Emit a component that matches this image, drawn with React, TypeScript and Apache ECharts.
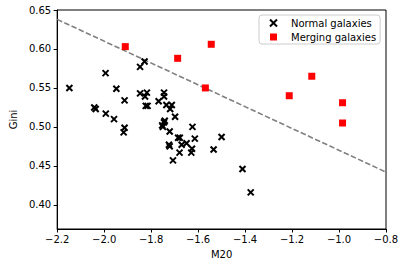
import React, { useEffect, useRef } from "react";
import * as echarts from "echarts";

const normalM20 = [
  -2.148, -1.994, -2.042, -2.036, -1.948, -1.913, -1.993, -1.958, -1.913, -1.917,
  -1.847, -1.828, -1.847, -1.818, -1.826, -1.823, -1.815, -1.745, -1.745, -1.768,
  -1.735, -1.712, -1.719, -1.698, -1.742, -1.753, -1.745, -1.750, -1.624, -1.721,
  -1.685, -1.678, -1.724, -1.721, -1.670, -1.649, -1.626, -1.629, -1.679, -1.707,
  -1.614, -1.534, -1.500, -1.411, -1.376,
];
const normalGini = [
  0.550, 0.569, 0.525, 0.523, 0.549, 0.534, 0.517, 0.510, 0.499, 0.493,
  0.577, 0.584, 0.543, 0.544, 0.539, 0.527, 0.527, 0.544, 0.539, 0.533,
  0.528, 0.528, 0.523, 0.513, 0.508, 0.502, 0.506, 0.500, 0.500, 0.494,
  0.486, 0.486, 0.477, 0.475, 0.477, 0.479, 0.472, 0.467, 0.467, 0.457,
  0.485, 0.471, 0.487, 0.446, 0.416,
];
const mergingM20 = [-1.910, -1.687, -1.544, -1.569, -1.116, -1.212, -0.985, -0.985];
const mergingGini = [0.603, 0.588, 0.606, 0.550, 0.565, 0.540, 0.531, 0.505];
const lineM20 = [-2.2, -0.8];
const lineGini = [0.638, 0.442];
const yTicks = [0.4, 0.45, 0.5, 0.55, 0.6, 0.65];

const FONT = "DejaVu Sans";
const X_PATH = "path://M0,0L10,10M10,0L0,10";

export default function App() {
  const ref = useRef<HTMLDivElement>(null);
  useEffect(() => {
    if (!ref.current) return;
    const chart = echarts.init(ref.current, undefined, { renderer: "svg" });
    const fmt = (v: number, d: number) => {
      const s = Math.abs(v).toFixed(d);
      return v < 0 ? "\u2212" + s : s;
    };
    chart.setOption({
      animation: false,
      textStyle: { fontFamily: FONT },
      grid: {
        left: 52,
        right: 18,
        top: 10,
        bottom: 37,
        show: true,
        borderColor: "#000",
        borderWidth: 1,
        backgroundColor: "#fff",
      },
      legend: {
        left: 259,
        top: 15,
        orient: "vertical",
        borderColor: "#cccccc",
        borderWidth: 1,
        borderRadius: 3,
        padding: [3, 4, 2, 10],
        itemGap: 4,
        itemWidth: 7,
        itemHeight: 7,
        textStyle: { fontFamily: FONT, fontSize: 10, color: "#000", padding: [0, 0, 0, 9] },
        data: [
          {
            name: "Normal galaxies",
            icon: X_PATH,
            itemStyle: { color: "transparent", borderColor: "#000", borderWidth: 2, opacity: 1 },
          },
          { name: "Merging galaxies", icon: "rect", itemStyle: { color: "#ff0000", opacity: 1 } },
        ],
      },
      xAxis: {
        type: "value",
        min: -2.2,
        max: -0.8,
        interval: 0.2,
        name: "M20",
        nameLocation: "middle",
        nameGap: 20,
        nameTextStyle: { fontFamily: FONT, fontSize: 10, color: "#000" },
        axisLine: { show: true, onZero: false, lineStyle: { color: "#000", width: 1 } },
        axisTick: { show: true, inside: false, length: 3.5, lineStyle: { color: "#000" } },
        axisLabel: {
          fontFamily: FONT,
          fontSize: 10,
          color: "#000",
          margin: 5,
          formatter: (v: number) => fmt(v, 1),
        },
        splitLine: { show: false },
      },
      yAxis: {
        type: "value",
        min: 0.369,
        max: 0.65,
        name: "Gini",
        nameLocation: "middle",
        nameGap: 36,
        nameRotate: 90,
        nameTextStyle: { fontFamily: FONT, fontSize: 10, color: "#000" },
        axisLine: { show: true, onZero: false, lineStyle: { color: "#000", width: 1 } },
        axisTick: {
          show: true,
          inside: false,
          length: 3.5,
          lineStyle: { color: "#000" },
          customValues: yTicks,
        },
        axisLabel: {
          fontFamily: FONT,
          fontSize: 10,
          color: "#000",
          margin: 6,
          customValues: yTicks,
          formatter: (v: number) => fmt(v, 2),
        },
        splitLine: { show: false },
      },
      series: [
        {
          name: "Threshold",
          type: "line",
          data: lineM20.map((x, i) => [x, lineGini[i]]),
          showSymbol: false,
          symbol: "none",
          lineStyle: { color: "#808080", width: 1.6, type: [5.5, 2.4] },
          z: 1,
          silent: true,
        },
        {
          name: "Normal galaxies",
          type: "scatter",
          symbol: X_PATH,
          symbolSize: 6,
          data: normalM20.map((x, i) => [x, normalGini[i]]),
          itemStyle: { color: "transparent", borderColor: "#000", borderWidth: 2, opacity: 1 },
          z: 3,
        },
        {
          name: "Merging galaxies",
          type: "scatter",
          symbol: "rect",
          symbolSize: 7,
          data: mergingM20.map((x, i) => [x, mergingGini[i]]),
          itemStyle: { color: "#ff0000", opacity: 1 },
          z: 3,
        },
      ],
    });
    return () => chart.dispose();
  }, []);
  return <div ref={ref} style={{ width: 404, height: 266, position: "absolute", left: 0, top: 0 }} />;
}
